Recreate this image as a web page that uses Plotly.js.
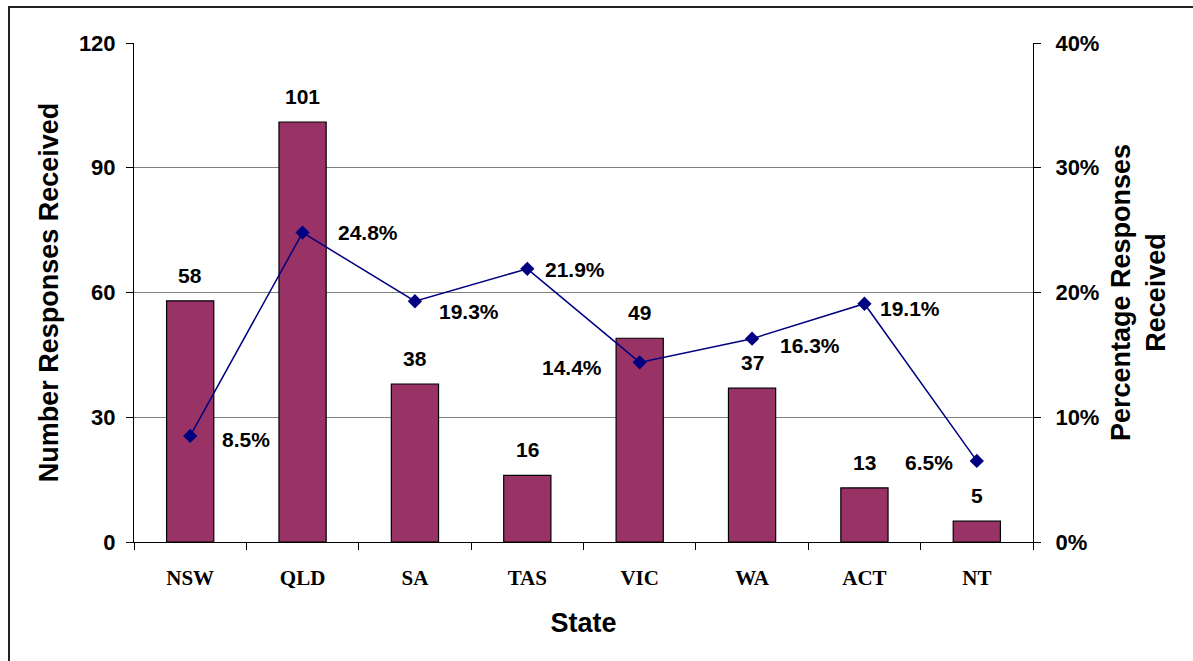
<!DOCTYPE html>
<html><head><meta charset="utf-8">
<script src="https://cdn.plot.ly/plotly-3.0.1.min.js"></script>
<style>
html,body{margin:0;padding:0;overflow:hidden;background:#fff;}
#chart{position:absolute;left:0;top:0;width:1193px;height:661px;}
#frame{position:absolute;left:8px;top:6px;width:1200px;height:700px;border:2px solid #222;pointer-events:none;}
</style></head>
<body>
<div id="chart"></div>
<div id="frame"></div>
<script>
const states = ["NSW","QLD","SA","TAS","VIC","WA","ACT","NT"];
const responses = [58,101,38,16,49,37,13,5];
const percentages = [0.085,0.248,0.193,0.219,0.144,0.163,0.191,0.065];
const pctLabels = ["8.5%","24.8%","19.3%","21.9%","14.4%","16.3%","19.1%","6.5%"];

// label placement (style only)
const pctDx = [30,33,22,16,-36,26,14,-22];
const pctDy = [-4,0,-10,-1,-5,-7,-5,-2];

const bold = {family:"Liberation Sans, Arial, sans-serif", size:21, color:"#000", weight:"bold"};
const tickBold = {family:"Liberation Sans, Arial, sans-serif", size:22, color:"#000", weight:"bold"};
const titleFont = {family:"Liberation Sans, Arial, sans-serif", size:27, color:"#000", weight:"bold"};

const annotations = [];
states.forEach((s,i)=>{
  annotations.push({x:s, y:responses[i], xref:"x", yref:"y", text:String(responses[i]),
    showarrow:false, yanchor:"bottom", yshift:12, font:bold});
  annotations.push({x:s, y:percentages[i], xref:"x", yref:"y2", text:pctLabels[i],
    showarrow:false, xanchor: pctDx[i]>0?"left":"right",
    xshift: pctDx[i], yshift:pctDy[i], font:bold});
});

const data = [
  {type:"bar", x:states, y:responses, width:0.42, yaxis:"y",
   marker:{color:"#993366", line:{color:"#000", width:1.2}}, hoverinfo:"skip"},
  {type:"scatter", mode:"lines+markers", x:states, y:percentages, yaxis:"y2",
   line:{color:"#000080", width:1.5}, marker:{symbol:"diamond", size:11, color:"#000080"}, hoverinfo:"skip"}
];

const layout = {
  width:1193, height:661,
  margin:{l:134, r:160, t:43, b:119},
  paper_bgcolor:"#fff", plot_bgcolor:"#fff",
  showlegend:false,
  xaxis:{type:"category", showgrid:false, showline:true, linecolor:"#000", linewidth:1,
    ticks:"outside", tickson:"boundaries", ticklen:7, tickcolor:"#000",
    ticklabelstandoff:17,
    tickfont:{family:"Liberation Serif, Times New Roman, serif", size:21, color:"#000", weight:"bold"},
    title:{text:"State", font:titleFont, standoff:23},
    range:[-0.5,7.5], fixedrange:true},
  yaxis:{range:[0,120], dtick:30, showgrid:true, gridcolor:"#808080", gridwidth:1,
    showline:true, linecolor:"#000", linewidth:1, ticks:"outside", ticklen:7, tickcolor:"#000",
    ticklabelstandoff:6,
    tickfont:tickBold, zeroline:false,
    title:{text:"Number Responses Received", font:titleFont, standoff:12}},
  yaxis2:{range:[0,0.4], dtick:0.1, tickformat:".0%", overlaying:"y", side:"right",
    showgrid:false, showline:true, linecolor:"#000", linewidth:1, ticks:"outside", ticklen:7, tickcolor:"#000",
    ticklabelstandoff:10,
    tickfont:tickBold, zeroline:false,
    title:{text:"Percentage Responses<br>Received", font:titleFont, standoff:12}},
  annotations:annotations
};

Plotly.newPlot("chart", data, layout, {staticPlot:true, displayModeBar:false});
</script>
</body></html>
